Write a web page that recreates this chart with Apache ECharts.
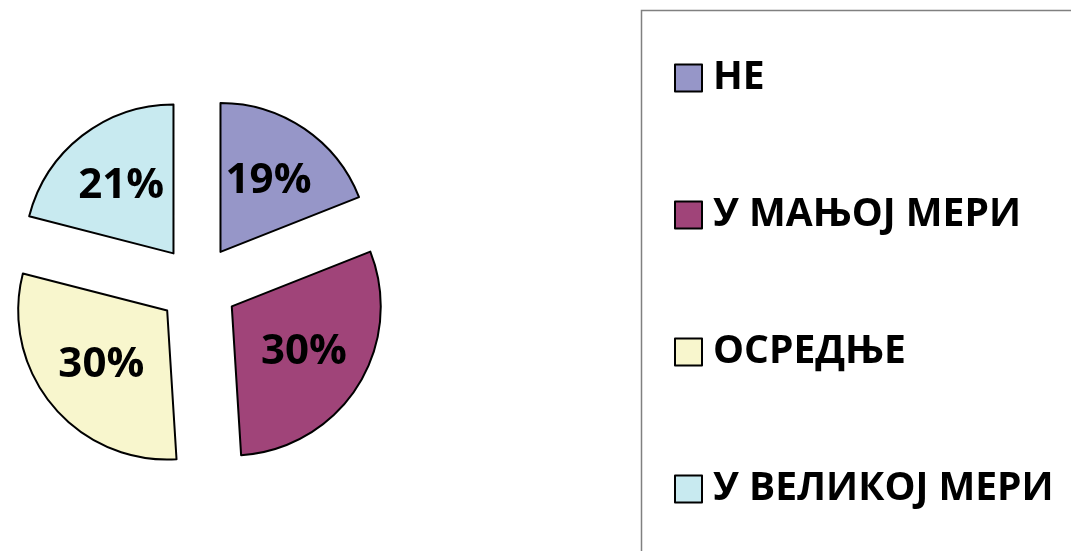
<!DOCTYPE html>
<html>
<head>
<meta charset="utf-8">
<script src="https://cdn.jsdelivr.net/npm/echarts@6/dist/echarts.min.js"></script>
<style>
  html, body { margin: 0; padding: 0; background: #fff; }
  #chart { width: 1071px; height: 551px; }
</style>
</head>
<body>
<div id="chart"></div>
<script>
// категорије и вредности (проценти)
const categories = ['НЕ', 'У МАЊОЈ МЕРИ', 'ОСРЕДЊЕ', 'У ВЕЛИКОЈ МЕРИ'];
const values = [19, 30, 30, 21];
const colors = ['#9696c8', '#a04479', '#f8f6cd', '#c8eaf0'];

const chart = echarts.init(document.getElementById('chart'));

const pieCenter = [198, 285];
const pieRadius = 149;

// исечци
const pieData = categories.map((name, i) => ({
  name: name,
  value: values[i],
  selected: true,
  itemStyle: { color: colors[i] },
}));

// исте вредности, само за натписе (мало даље од врха)
const labelData = categories.map((name, i) => ({
  name: name,
  value: values[i],
  selected: true,
}));

chart.setOption({
  animation: false,
  backgroundColor: '#ffffff',
  // оквир легенде
  graphic: [
    {
      type: 'rect',
      shape: { x: 641.5, y: 10.5, width: 500, height: 600 },
      style: { fill: 'none', stroke: '#808080', lineWidth: 1.5 },
      silent: true,
    },
  ],
  legend: {
    orient: 'vertical',
    left: 674,
    top: 58,
    padding: 0,
    itemWidth: 27,
    itemHeight: 27,
    itemGap: 97,
    icon: 'rect',
    selectedMode: false,
    itemStyle: { borderColor: '#000', borderWidth: 2 },
    textStyle: {
      fontFamily: 'Open Sans',
      fontWeight: 'bold',
      fontSize: 39,
      lineHeight: 40,
      color: '#000',
      padding: [0, 0, 0, 6],
    },
    data: categories,
  },
  series: [
    {
      type: 'pie',
      center: pieCenter,
      radius: pieRadius,
      startAngle: 90,
      clockwise: true,
      selectedMode: 'multiple',
      selectedOffset: 40,
      avoidLabelOverlap: false,
      emphasis: { disabled: true },
      itemStyle: { borderColor: '#000', borderWidth: 2 },
      label: { show: false },
      labelLine: { show: false },
      data: pieData,
    },
    {
      type: 'pie',
      silent: true,
      center: pieCenter,
      radius: [16, pieRadius],
      startAngle: 90,
      clockwise: true,
      selectedMode: 'multiple',
      selectedOffset: 40,
      avoidLabelOverlap: false,
      emphasis: { disabled: true },
      itemStyle: { color: 'rgba(0,0,0,0)', borderWidth: 0 },
      label: {
        show: true,
        position: 'inside',
        formatter: '{c}%',
        fontFamily: 'Open Sans',
        fontWeight: 'bold',
        fontSize: 42,
        color: '#000',
      },
      labelLine: { show: false },
      data: labelData,
    },
  ],
});
</script>
</body>
</html>
